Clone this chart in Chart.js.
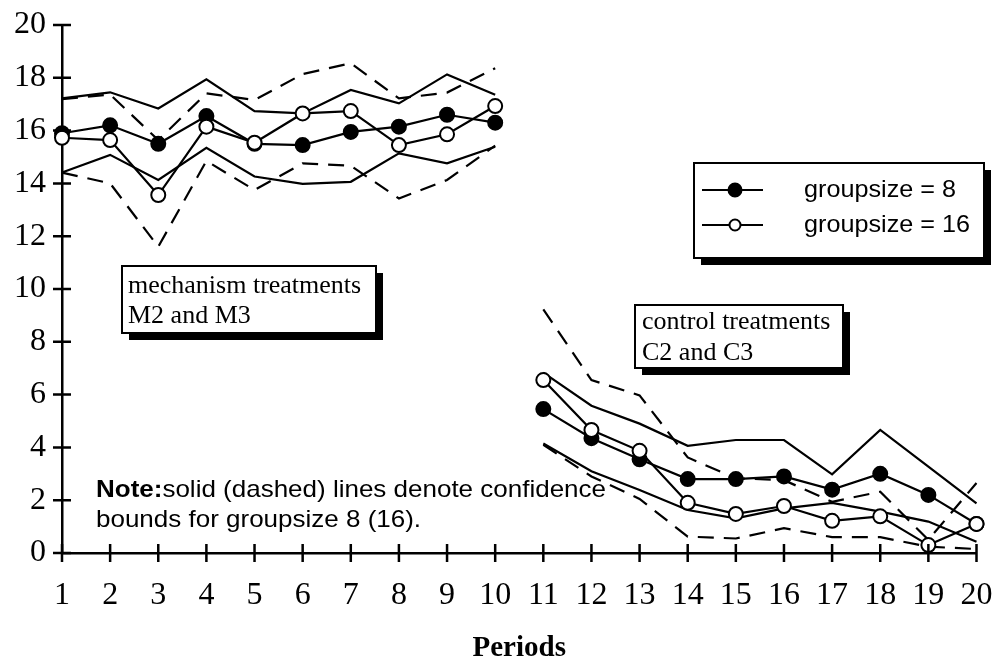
<!DOCTYPE html>
<html>
<head>
<meta charset="utf-8">
<script src="https://cdn.jsdelivr.net/npm/chart.js@4.4.0/dist/chart.umd.min.js"></script>
<style>
  html, body { margin: 0; padding: 0; background: #fff; }
  #wrap { width: 994px; height: 660px; position: relative; }
</style>
</head>
<body>
<div id="wrap"><canvas id="chart"></canvas></div>
<script>
// periods 1-10 are the mechanism treatments, 11-20 the control treatments
const periods = ['1', '2', '3', '4', '5', '6', '7', '8', '9', '10',
                 '11', '12', '13', '14', '15', '16', '17', '18', '19', '20'];
const lastMechanismIndex = 9; // no line between period 10 and 11

const meanGroup8   = [15.9, 16.2, 15.5, 16.55, 15.5, 15.45, 15.95, 16.15, 16.6, 16.3,
                      5.45, 4.35, 3.55, 2.8, 2.8, 2.9, 2.4, 3.0, 2.2, 1.1];
const meanGroup16  = [15.73, 15.64, 13.56, 16.15, 15.54, 16.65, 16.74, 15.45, 15.86, 16.93,
                      6.55, 4.66, 3.87, 1.9, 1.48, 1.78, 1.22, 1.39, 0.3, 1.1];
const upperGroup8  = [17.22, 17.45, 16.84, 17.94, 16.74, 16.65, 17.54, 17.03, 18.13, 17.36,
                      6.83, 5.58, 4.9, 4.06, 4.28, 4.28, 2.98, 4.66, 3.27, 1.88];
const lowerGroup8  = [14.41, 15.08, 14.13, 15.35, 14.26, 13.98, 14.06, 15.14, 14.76, 15.39,
                      4.15, 3.1, 2.39, 1.63, 1.31, 1.69, 1.9, 1.57, 1.19, 0.43];
const upperGroup16 = [17.19, 17.37, 15.64, 17.41, 17.16, 18.14, 18.55, 17.22, 17.44, 18.36,
                      9.23, 6.55, 5.97, 3.62, 2.83, 2.76, 1.94, 2.32, 0.5, 2.65];
const lowerGroup16 = [14.41, 14.0, 11.6, 14.85, 13.75, 14.76, 14.67, 13.43, 14.13, 15.43,
                      4.1, 2.9, 2.05, 0.62, 0.55, 0.94, 0.6, 0.6, 0.24, 0.15];

const legendLabels  = ['groupsize = 8', 'groupsize = 16'];
const mechanismText = ['mechanism treatments', 'M2 and M3'];
const controlText   = ['control treatments', 'C2 and C3'];
const noteBold      = 'Note:';
const noteLines     = ['solid (dashed) lines denote confidence', 'bounds for groupsize 8 (16).'];

const SERIF = "'Liberation Serif', 'Times New Roman', serif";
const SANS  = "'Liberation Sans', Arial, Helvetica, sans-serif";

// hide the segment that would join period 10 to period 11
const gapSegment = {
    borderColor: ctx => ctx.p0DataIndex === lastMechanismIndex ? 'rgba(0,0,0,0)' : '#000'
};

function boundLine(data, dashed) {
    return {
        data: data,
        borderColor: '#000',
        borderWidth: 2.2,
        borderDash: dashed ? [16, 10] : [],
        pointRadius: 0,
        fill: false,
        tension: 0,
        segment: gapSegment,
        order: 3
    };
}

function meanLine(label, data, filled, order) {
    return {
        label: label,
        data: data,
        borderColor: '#000',
        borderWidth: 2.2,
        pointRadius: 7,
        pointBorderWidth: 2,
        pointBorderColor: '#000',
        pointBackgroundColor: filled ? '#000' : '#fff',
        fill: false,
        tension: 0,
        segment: gapSegment,
        order: order
    };
}

// ===============================
// boxes with drop shadow
// ===============================
function shadowBox(ctx, x, y, w, h) {
    ctx.fillStyle = '#000';
    ctx.fillRect(x + 7, y + 7, w, h);
    ctx.fillStyle = '#fff';
    ctx.fillRect(x, y, w, h);
    ctx.strokeStyle = '#000';
    ctx.lineWidth = 2;
    ctx.strokeRect(x, y, w, h);
}

function stretchedText(ctx, text, x, y, sx) {
    ctx.save();
    ctx.scale(sx, 1);
    ctx.fillText(text, x / sx, y);
    ctx.restore();
}

const decorations = {
    id: 'decorations',
    afterDraw(chart) {
        const { ctx, scales: { x, y } } = chart;
        ctx.save();

        // tick marks crossing both axes
        ctx.strokeStyle = '#000';
        ctx.lineWidth = 2.5;
        ctx.beginPath();
        x.ticks.forEach((t, i) => {
            const px = x.getPixelForTick(i);
            ctx.moveTo(px, y.bottom - 9);
            ctx.lineTo(px, y.bottom + 9);
        });
        y.ticks.forEach((t, i) => {
            const py = y.getPixelForTick(i);
            ctx.moveTo(x.left - 9, py);
            ctx.lineTo(x.left + 9, py);
        });
        ctx.stroke();

        // treatment labels
        ctx.textBaseline = 'alphabetic';
        ctx.textAlign = 'left';

        shadowBox(ctx, 122, 266, 254, 67);
        ctx.fillStyle = '#000';
        ctx.font = '26px ' + SERIF;
        ctx.fillText(mechanismText[0], 128, 293);
        ctx.fillText(mechanismText[1], 128, 323);

        shadowBox(ctx, 635, 305, 208, 63);
        ctx.fillStyle = '#000';
        ctx.font = '26px ' + SERIF;
        ctx.fillText(controlText[0], 642, 329);
        ctx.fillText(controlText[1], 642, 360);

        // legend, groupsize 8 first
        shadowBox(ctx, 694, 163, 290, 95);
        ctx.font = '24px ' + SANS;
        const lsx = 166 / ctx.measureText(legendLabels[1]).width;
        [190, 225].forEach((ly, i) => {
            const ds = chart.data.datasets.find(d => d.label === legendLabels[i]);
            ctx.strokeStyle = '#000';
            ctx.lineWidth = 2;
            ctx.beginPath();
            ctx.moveTo(702, ly);
            ctx.lineTo(763, ly);
            ctx.stroke();
            ctx.beginPath();
            ctx.arc(735, ly, i === 0 ? 6.5 : 5.5, 0, Math.PI * 2);
            ctx.fillStyle = ds.pointBackgroundColor;
            ctx.fill();
            ctx.stroke();
            ctx.fillStyle = '#000';
            stretchedText(ctx, ds.label, 804, ly + 7, lsx);
        });

        // note
        ctx.font = '24px ' + SANS;
        const restW = ctx.measureText(noteLines[0]).width;
        ctx.font = 'bold 24px ' + SANS;
        const boldW = ctx.measureText(noteBold).width;
        const nsx = 510 / (restW + boldW);
        stretchedText(ctx, noteBold, 96, 497, nsx);
        ctx.font = '24px ' + SANS;
        stretchedText(ctx, noteLines[0], 96 + boldW * nsx, 497, nsx);
        stretchedText(ctx, noteLines[1], 96, 527, nsx);

        ctx.restore();
    }
};

new Chart(document.getElementById('chart'), {
    type: 'line',
    data: {
        labels: periods,
        datasets: [
            meanLine(legendLabels[1], meanGroup16, false, 0),
            meanLine(legendLabels[0], meanGroup8, true, 1),
            boundLine(upperGroup8, false),
            boundLine(lowerGroup8, false),
            boundLine(upperGroup16, true),
            boundLine(lowerGroup16, true)
        ]
    },
    options: {
        responsive: true,
        maintainAspectRatio: false,
        animation: false,
        events: [],
        layout: {
            padding: { top: 25, right: 17.5, bottom: 0, left: 0 }
        },
        scales: {
            x: {
                grid: { display: false, drawTicks: false },
                border: { display: true, color: '#000', width: 2.5 },
                ticks: {
                    color: '#000',
                    padding: 23,
                    maxRotation: 0,
                    autoSkip: false,
                    font: { family: SERIF, size: 32 }
                },
                title: {
                    display: true,
                    text: 'Periods',
                    color: '#000',
                    padding: 0,
                    font: { family: SERIF, size: 29, weight: 'bold', lineHeight: 0.8 }
                },
                afterFit: s => { s.height = 107; s.paddingLeft = 0; s.paddingRight = 0; }
            },
            y: {
                min: 0,
                max: 20,
                grid: { display: false, drawTicks: false },
                border: { display: true, color: '#000', width: 2.5 },
                ticks: {
                    stepSize: 2,
                    color: '#000',
                    padding: 16,
                    font: { family: SERIF, size: 32 }
                },
                afterFit: s => { s.width = 62; s.paddingTop = 0; s.paddingBottom = 0; }
            }
        },
        plugins: {
            legend: { display: false },
            tooltip: { enabled: false }
        }
    },
    plugins: [decorations]
});
</script>
</body>
</html>
